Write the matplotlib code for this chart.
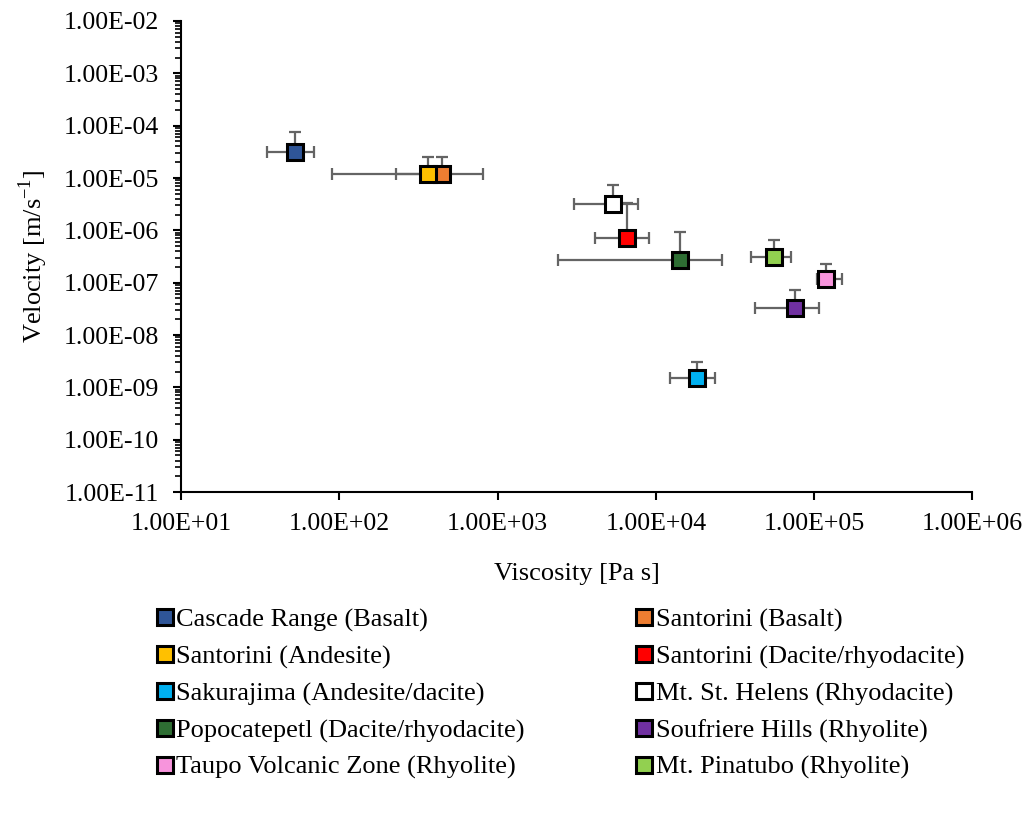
import matplotlib.pyplot as plt
from matplotlib.lines import Line2D
from matplotlib.ticker import FuncFormatter, LogLocator, NullLocator

plt.rcParams["font.family"] = ["Liberation Serif", "DejaVu Serif"]
plt.rcParams["mathtext.fontset"] = "custom"
plt.rcParams["mathtext.rm"] = "Liberation Serif"

names = [
    "Cascade Range (Basalt)",
    "Santorini (Basalt)",
    "Santorini (Andesite)",
    "Santorini (Dacite/rhyodacite)",
    "Sakurajima (Andesite/dacite)",
    "Mt. St. Helens (Rhyodacite)",
    "Popocatepetl (Dacite/rhyodacite)",
    "Soufriere Hills (Rhyolite)",
    "Taupo Volcanic Zone (Rhyolite)",
    "Mt. Pinatubo (Rhyolite)",
]
colors = ["#2F5597", "#ED7D31", "#FFC000", "#FF0000", "#00B0F0",
          "#FFFFFF", "#2E6E33", "#7030A0", "#F794DC", "#92D050"]

viscosity = [52.5, 447, 364, 6560, 18100, 5380, 14200, 75300, 118000, 55700]
visc_low = [35, 228, 90, 4140, 12200, 3020, 2400, 42500, 105000, 40100]
visc_high = [69, 807, 420, 8990, 23800, 7740, 26000, 108000, 151000, 71800]
velocity = [3.1e-5, 1.17e-5, 1.17e-5, 7.2e-7, 1.49e-9, 3.14e-6, 2.75e-7, 3.24e-8, 1.17e-7, 3.09e-7]
vel_high = [7.7e-5, 2.55e-5, 2.48e-5, 3.37e-6, 3.05e-9, 7.2e-6, 9.3e-7, 7.4e-8, 2.3e-7, 6.5e-7]

fig = plt.figure(figsize=(10.29, 8.30), dpi=100)
ax = fig.add_axes([0.176, 0.4072, 0.769, 0.5675])

for i in range(len(names)):
    xerr = [[viscosity[i] - visc_low[i]], [visc_high[i] - viscosity[i]]]
    yerr = [[0], [vel_high[i] - velocity[i]]]
    ax.errorbar([viscosity[i]], [velocity[i]], xerr=xerr, yerr=yerr,
                fmt="none", ecolor="#646464", elinewidth=1.6, capsize=4.5,
                capthick=1.6, zorder=2)
    ax.plot([viscosity[i]], [velocity[i]], marker="s", markersize=11,
            markerfacecolor=colors[i], markeredgecolor="black",
            markeredgewidth=2.2, linestyle="none", zorder=3)

ax.set_xscale("log")
ax.set_yscale("log")
ax.set_xlim(10, 1e6)
ax.set_ylim(1e-11, 1e-2)

fmt = FuncFormatter(lambda v, p: "%.2E" % v)
ax.xaxis.set_major_formatter(fmt)
ax.yaxis.set_major_formatter(fmt)
ax.xaxis.set_major_locator(LogLocator(base=10, numticks=20))
ax.xaxis.set_minor_locator(NullLocator())
ax.yaxis.set_major_locator(LogLocator(base=10, numticks=20))
ax.yaxis.set_minor_locator(LogLocator(base=10, subs=range(2, 10), numticks=20))
ax.yaxis.set_minor_formatter(FuncFormatter(lambda v, p: ""))

for s in ["top", "right"]:
    ax.spines[s].set_visible(False)
for s in ["left", "bottom"]:
    ax.spines[s].set_linewidth(1.5)

ax.tick_params(axis="both", which="major", labelsize=18.6, length=6, width=1.5)
ax.tick_params(axis="y", which="minor", length=4, width=1.2)
ax.tick_params(axis="y", which="major", pad=10)
ax.tick_params(axis="x", pad=9)

ax.set_xlabel("Viscosity [Pa s]", fontsize=19, labelpad=20)
ax.set_ylabel("Velocity [m/s$^{\\mathregular{-1}}$]", fontsize=19, labelpad=10)

# legend filled row-wise like the original (two columns)
handles = [Line2D([], [], marker="s", markersize=11, markerfacecolor=c,
                  markeredgecolor="black", markeredgewidth=2.2, linestyle="none")
           for c in colors]
order = [0, 2, 4, 6, 8, 1, 3, 5, 7, 9]
fig.legend([handles[i] for i in order], [names[i] for i in order],
           loc="upper left", bbox_to_anchor=(0.142, 0.280), ncol=2,
           frameon=False, fontsize=19, handlelength=0.6, handletextpad=0.15,
           columnspacing=4.22, labelspacing=0.49, borderaxespad=0)

fig.savefig("out.png", dpi=100)
